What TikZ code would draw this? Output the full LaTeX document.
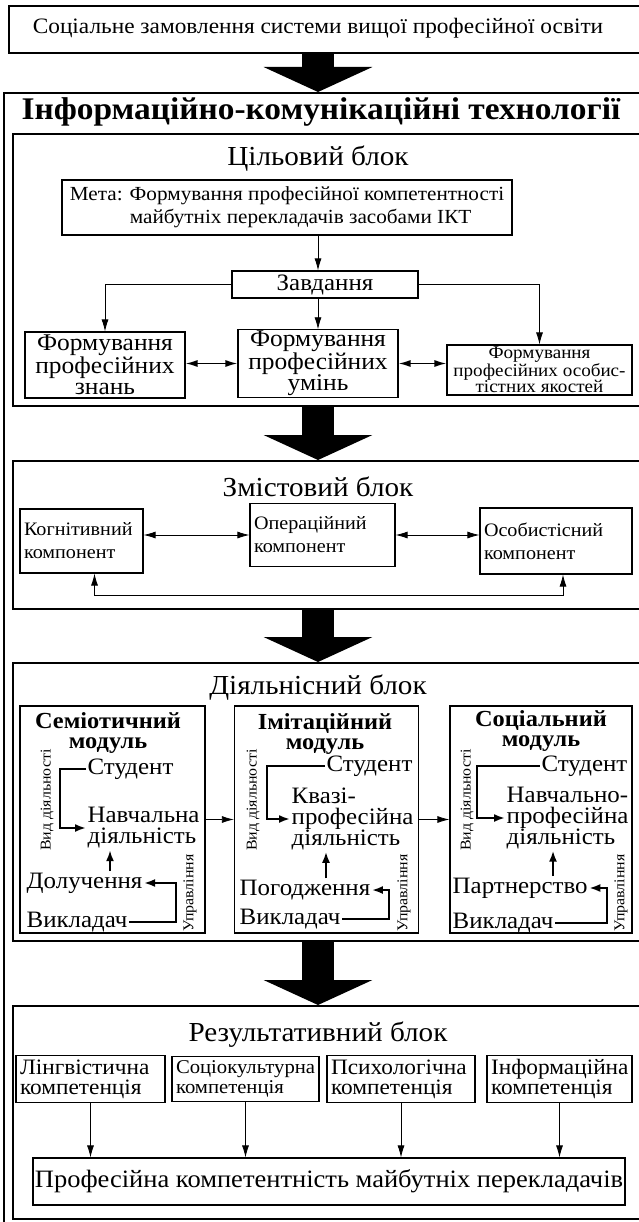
\documentclass[tikz,border=0pt]{standalone}
\usepackage{fontspec}
\setmainfont{Liberation Serif}[FakeStretch=1.06]
\usetikzlibrary{arrows.meta, positioning}
\tikzset{
    frame/.style={draw, line width=1.6pt, inner sep=0pt},
    box/.style={draw, line width=1.1pt, align=center, inner sep=1pt},
    leftbox/.style={box, align=left, inner sep=4pt},
    heading/.style={font=\fontsize{27.5}{29}\selectfont},
    arrow/.style={line width=0.8pt, -{Latex[length=12pt, width=7pt]}},
    twoway/.style={line width=0.8pt, {Latex[length=12pt, width=7pt]}-{Latex[length=12pt, width=7pt]}},
    bigarrow/.style={line width=32pt, -{Triangle[length=25pt, width=108pt]}},
    flow/.style={line width=2pt, -{Latex[length=11pt, width=8pt]}},
    modframe/.style={draw, line width=1.2pt, minimum width=184pt, minimum height=227pt},
    modtitle/.style={font=\bfseries\fontsize{23}{20.5}\selectfont, align=center},
    modtext/.style={font=\fontsize{23.5}{21}\selectfont, inner sep=1.5pt, align=left},
    sidelabel/.style={rotate=90, font=\fontsize{15}{16}\selectfont, inner sep=0pt}
}
\begin{document}
\begin{tikzpicture}[x=1pt, y=-1pt]
    \useasboundingbox (0, 0) rectangle (638, 1222);

    % Social order and ICT frame
    \node (order) [frame, minimum width=660pt, minimum height=47pt, anchor=north west] at (8, 5) {};
    \node (order_text) [font=\fontsize{22}{24}\selectfont] at (318, 28) {Соціальне замовлення системи вищої професійної освіти};
    \node (ict) [frame, minimum width=680pt, minimum height=1140pt, anchor=north west] at (3, 92) {};
    \node (ict_title) [font=\bfseries\fontsize{31.5}{33}\selectfont] at (321, 112) {Інформаційно-комунікаційні технології};
    \draw[bigarrow] (order.south -| 318, 0) -- (ict.north -| 318, 0);

    % Goal block
    \node (goal) [frame, minimum width=660pt, minimum height=272pt, anchor=north west] at (12, 133) {};
    \node (G_title) [heading] at (318, 159) {Цільовий блок};
    \node (G_aim) [box, minimum width=450pt, minimum height=55pt, align=left, font=\fontsize{20}{23}\selectfont] at (287, 207.5) {Мета: Формування професійної компетентності\\\hspace*{3em}майбутніх перекладачів засобами ІКТ};
    \node (G_task) [box, minimum width=186pt, minimum height=27pt, font=\fontsize{23.5}{24}\selectfont] at (325, 284.5) {Завдання};
    \node (G_know) [box, minimum width=160pt, minimum height=66pt, font=\fontsize{24}{21.5}\selectfont] at (105, 365) {Формування\\професійних\\знань};
    \node (G_skill) [box, minimum width=160pt, minimum height=67pt, font=\fontsize{24}{21.5}\selectfont] at (318, 363.5) {Формування\\професійних\\умінь};
    \node (G_trait) [box, minimum width=185pt, minimum height=50pt, font=\fontsize{18}{16.5}\selectfont] at (539.5, 370) {Формування\\професійних особис-\\тістних якостей};

    \draw[arrow] (G_aim.south -| G_skill) -- (G_task.north -| G_skill);
    \draw[arrow] (G_task.west) -| (G_know);
    \draw[arrow] (G_task.south -| G_skill) -- (G_skill);
    \draw[arrow] (G_task.east) -| (G_trait);
    \draw[twoway, line width=1.5pt] (G_know.east |- G_skill) -- (G_skill);
    \draw[twoway, line width=1.5pt] (G_skill.east) -- (G_skill.east -| G_trait.west);

    % Content block
    \node (content) [frame, minimum width=660pt, minimum height=148pt, anchor=north west] at (12, 460) {};
    \node (C_title) [heading] at (318, 487) {Змістовий блок};
    \node (C_cogn) [leftbox, text width=115pt, minimum height=64pt, font=\fontsize{19}{23}\selectfont] at (81.5, 541) {Когнітивний\\компонент};
    \node (C_oper) [leftbox, text width=137pt, minimum height=63pt, font=\fontsize{19}{23}\selectfont] at (322.5, 535) {Операційний\\компонент};
    \node (C_pers) [leftbox, text width=144pt, minimum height=66pt, font=\fontsize{19}{23}\selectfont] at (556, 541) {Особистісний\\компонент};
    \draw[twoway] (C_cogn.east |- C_oper) -- (C_oper);
    \draw[twoway] (C_oper) -- (C_oper -| C_pers.west);
    \draw[twoway] ([xshift=13pt]C_cogn.south) -- ++(0, 22) -| ([xshift=7pt]C_pers.south);
    \draw[bigarrow] (goal.south -| 318, 0) -- (content.north -| 318, 0);

    % Activity block
    \node (action) [frame, minimum width=660pt, minimum height=278pt, anchor=north west] at (12, 662) {};
    \node (A_title) [heading] at (318, 688) {Діяльнісний блок};
    \draw[bigarrow] (content.south -| 318, 0) -- (action.north -| 318, 0);

    % Semiotic module
    \node (A_sem) [modframe, minimum width=185pt] at (112.5, 819.5) {};
    \node (A_sem_title) [modtitle] at (108, 733) {Семіотичний\\модуль};
    \node (A_sem_student) [modtext, anchor=west] at (86, 769) {Студент};
    \node (A_sem_work) [modtext, anchor=west] at (86, 828) {Навчальна\\діяльність};
    \node (A_sem_join) [modtext, anchor=west] at (25, 883) {Долучення};
    \node (A_sem_teacher) [modtext, anchor=west] at (25, 922) {Викладач};
    \node (A_sem_kind) [sidelabel] at (47, 800) {Вид діяльності};
    \node (A_sem_ctrl) [sidelabel] at (190, 893) {Управління};
    \coordinate (A_sem_loop) at (60, 0);
    \coordinate (A_sem_up) at (110, 0);
    \coordinate (A_sem_bend) at (176, 0);
    \draw[flow] (A_sem_student.west) -| (A_sem_loop |- A_sem_work.west) -- (A_sem_work.west);
    \draw[flow] (A_sem_join.north -| A_sem_up) -- (A_sem_work.south -| A_sem_up);
    \draw[flow] (A_sem_teacher.east) -| (A_sem_join.east -| A_sem_bend) -- (A_sem_join.east);

    % Imitation module
    \node (A_imit) [modframe] at (326.5, 819.5) {};
    \node (A_imit_title) [modtitle] at (325, 734) {Імітаційний\\модуль};
    \node (A_imit_student) [modtext, anchor=west] at (325, 766) {Студент};
    \node (A_imit_work) [modtext, anchor=west] at (290, 819) {Квазі-\\професійна\\діяльність};
    \node (A_imit_agree) [modtext, anchor=west] at (238, 890) {Погодження};
    \node (A_imit_teacher) [modtext, anchor=west] at (238, 919) {Викладач};
    \node (A_imit_kind) [sidelabel] at (253, 800) {Вид діяльності};
    \node (A_imit_ctrl) [sidelabel] at (404, 893) {Управління};
    \coordinate (A_imit_loop) at (267, 0);
    \coordinate (A_imit_up) at (326, 0);
    \coordinate (A_imit_bend) at (389, 0);
    \draw[flow] (A_imit_student.west) -| (A_imit_loop |- A_imit_work.west) -- (A_imit_work.west);
    \draw[flow] (A_imit_agree.north -| A_imit_up) -- (A_imit_work.south -| A_imit_up);
    \draw[flow] (A_imit_teacher.east) -| (A_imit_agree.east -| A_imit_bend) -- (A_imit_agree.east);

    % Social module
    \node (A_soc) [modframe, minimum width=182pt] at (541, 819.5) {};
    \node (A_soc_title) [modtitle] at (541, 731) {Соціальний\\модуль};
    \node (A_soc_student) [modtext, anchor=east] at (629, 766) {Студент};
    \node (A_soc_work) [modtext, anchor=west] at (505, 818) {Навчально-\\професійна\\діяльність};
    \node (A_soc_part) [modtext, anchor=west] at (451, 888) {Партнерство};
    \node (A_soc_teacher) [modtext, anchor=west] at (451, 923) {Викладач};
    \node (A_soc_kind) [sidelabel] at (467, 800) {Вид діяльності};
    \node (A_soc_ctrl) [sidelabel] at (621, 893) {Управління};
    \coordinate (A_soc_loop) at (477, 0);
    \coordinate (A_soc_up) at (553, 0);
    \coordinate (A_soc_bend) at (607, 0);
    \draw[flow] (A_soc_student.west) -| (A_soc_loop |- A_soc_work.west) -- (A_soc_work.west);
    \draw[flow] (A_soc_part.north -| A_soc_up) -- (A_soc_work.south -| A_soc_up);
    \draw[flow] (A_soc_teacher.east) -| (A_soc_part.east -| A_soc_bend) -- (A_soc_part.east);

    \draw[arrow] (A_sem) -- (A_imit);
    \draw[arrow] (A_imit) -- (A_soc);

    % Result block
    \node (outcome) [frame, minimum width=660pt, minimum height=213pt, anchor=north west] at (12, 1005) {};
    \node (R_title) [heading] at (318, 1035) {Результативний блок};
    \draw[bigarrow] (action.south -| 318, 0) -- (outcome.north -| 318, 0);
    \node (R_ling) [leftbox, text width=141pt, minimum height=42pt, font=\fontsize{22}{20}\selectfont] at (90.5, 1079) {Лінгвістична\\компетенція};
    \node (R_soc) [leftbox, text width=139pt, minimum height=42pt, font=\fontsize{19.5}{20}\selectfont] at (245.5, 1079) {Соціокультурна\\компетенція};
    \node (R_psy) [leftbox, text width=140pt, minimum height=42pt, font=\fontsize{22}{20}\selectfont] at (401, 1079) {Психологічна\\компетенція};
    \node (R_inf) [leftbox, text width=137pt, minimum height=42pt, font=\fontsize{22}{20}\selectfont] at (559.5, 1079) {Інформаційна\\компетенція};
    \node (R_total) [box, minimum width=592pt, minimum height=47pt, font=\fontsize{25}{27}\selectfont] at (329, 1181.5) {Професійна компетентність майбутніх перекладачів};
    \foreach \c in {R_ling, R_soc, R_psy, R_inf}
        \draw[arrow] (\c.south) -- (\c.south |- R_total.north);
\end{tikzpicture}
\end{document}
